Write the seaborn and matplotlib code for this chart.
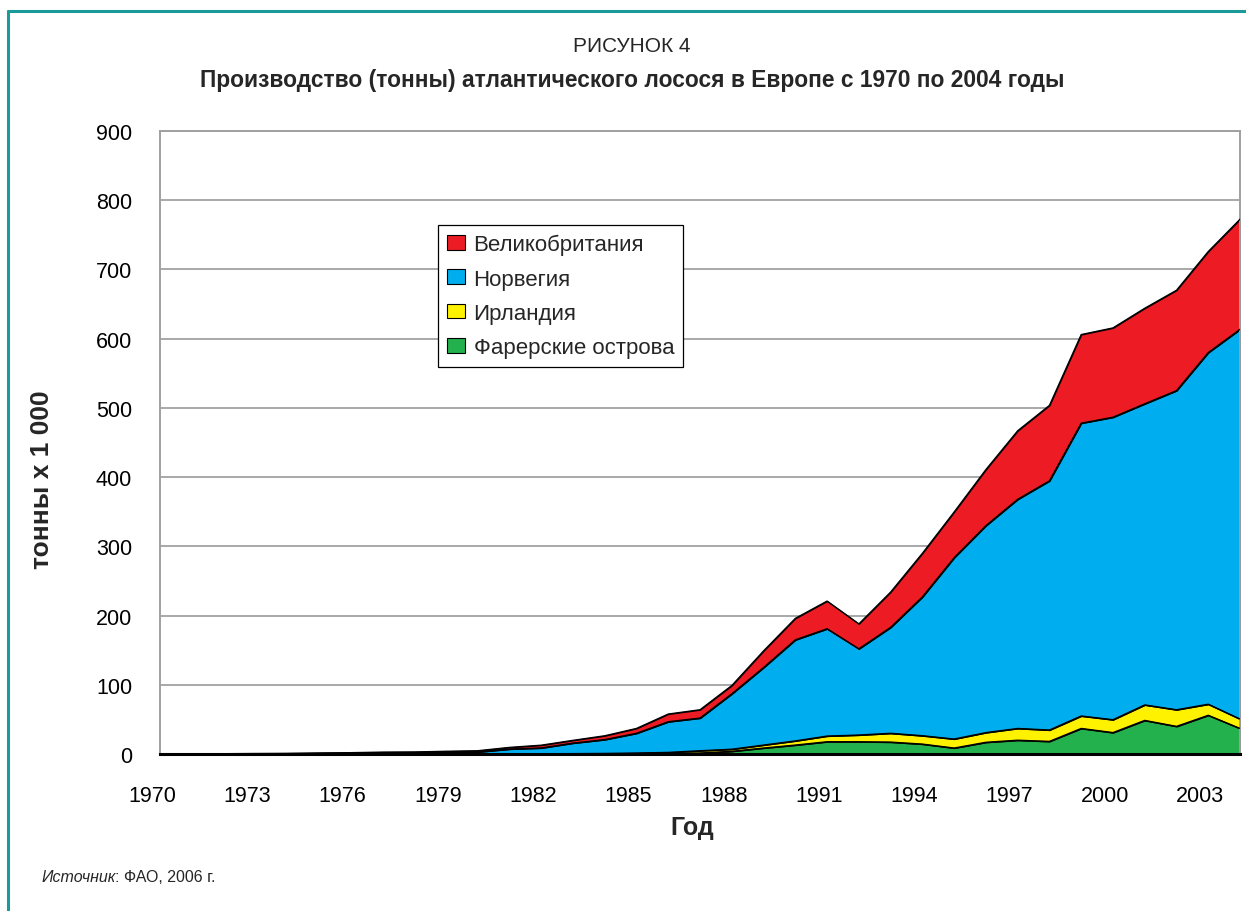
import numpy as np
import pandas as pd
import matplotlib
matplotlib.use("Agg")
import matplotlib.pyplot as plt
import matplotlib.transforms as mtransforms
from matplotlib.patches import Patch
import seaborn as sns

# Production of Atlantic salmon, thousand tonnes
years = list(range(1970, 2005))
faroe = [0, 0, 0, 0, 0, 0, 0, 0, 0, 0, 0, 0, 0, 0, 0.1, 0.5, 1.0, 1.5, 4.0, 8.7,
         13.0, 17.8, 17.8, 17.3, 14.4, 8.7, 17.0, 20.0, 18.3, 37.0, 31.0, 48.6, 40.0, 56.0, 37.0]
ireland = [0, 0, 0, 0, 0, 0, 0, 0, 0, 0, 0.2, 0.3, 0.4, 0.6, 0.8, 1.0, 1.4, 3.3, 3.0, 4.3,
           6.0, 8.2, 9.7, 12.7, 12.1, 13.0, 14.0, 17.0, 16.4, 18.0, 18.6, 22.4, 24.0, 16.0, 13.6]
norway = [0.1, 0.1, 0.2, 0.4, 0.6, 1.0, 1.4, 2.0, 2.2, 2.5, 2.8, 6.9, 8.4, 15.2, 20.0, 28.5,
          44.3, 47.2, 80.0, 112.0, 146.0, 155.0, 124.5, 153.0, 200.5, 262.0, 299.0, 331.0,
          360.0, 423.0, 437.0, 435.0, 461.0, 508.0, 563.0]
uk = [0.1, 0.2, 0.3, 0.4, 0.4, 0.5, 0.6, 0.8, 0.8, 1.5, 1.8, 2.4, 4.0, 4.0, 5.5, 7.0, 11.1,
      12.0, 12.0, 24.0, 31.0, 40.0, 36.0, 51.0, 63.0, 66.0, 81.0, 99.0, 109.0, 128.0, 129.0,
      138.0, 145.0, 146.0, 159.0]

series_names = ["Фарерские острова", "Ирландия", "Норвегия", "Великобритания"]
series_colors = ["#22B14C", "#FFF200", "#00AEEF", "#ED1C24"]
tick_years = list(range(1970, 2004, 3))
y_ticks = list(range(0, 901, 100))

sns.set_theme(style="white")
plt.rcParams["font.family"] = ["Liberation Sans", "DejaVu Sans"]

fig = plt.figure(figsize=(12.46, 9.12), dpi=100)
ax = fig.add_axes([160 / 1246, 1 - 755 / 912, 1080 / 1246, 623 / 912])

values = [faroe, ireland, norway, uk]
ax.stackplot(years, *values, colors=series_colors, edgecolor="black", linewidth=0.9)

# outline of each stacked layer
tops = np.cumsum(np.array(values), axis=0)
df = pd.DataFrame({
    "Год": np.tile(years, len(series_names)),
    "top": tops.ravel(),
    "layer": np.repeat(series_names, len(years)),
})
sns.lineplot(data=df, x="Год", y="top", units="layer", estimator=None,
             color="black", linewidth=0.9, ax=ax, zorder=3)

ax.set_xlim(1970, 2004)
ax.set_ylim(0, 900)
ax.set_yticks(y_ticks)
ax.set_xticks(tick_years)
ax.set_xticklabels([str(y) for y in tick_years])
ax.yaxis.grid(True, color="#A8A8A8", linewidth=1.4)
ax.set_axisbelow(True)
ax.tick_params(axis="both", length=0, labelsize=15.5, colors="black")
ax.tick_params(axis="x", pad=22)
ax.tick_params(axis="y", pad=20)
shift = mtransforms.ScaledTranslation(-8 / 100, 0, fig.dpi_scale_trans)
for lab in ax.get_xticklabels():
    lab.set_transform(lab.get_transform() + shift)
for side in ["left", "top", "right"]:
    ax.spines[side].set_color("#A0A0A0")
    ax.spines[side].set_linewidth(1.4)
ax.spines["bottom"].set_color("black")
ax.spines["bottom"].set_linewidth(2.2)
ax.set_xlabel("")
ax.set_ylabel("")

fig.text(42 / 1246, 1 - 480 / 912, "тонны x 1 000", rotation=90, ha="center", va="center",
         fontsize=19, fontweight="bold")
fig.text(692 / 1246, 1 - 828 / 912, "Год", ha="center", va="center",
         fontsize=18, fontweight="bold")

fig.text(632 / 1246, 1 - 47 / 912, "РИСУНОК 4", ha="center", va="center", fontsize=15)
fig.text(632 / 1246, 1 - 80 / 912,
         "Производство (тонны) атлантического лосося в Европе с 1970 по 2004 годы",
         ha="center", va="center", fontsize=16.4, fontweight="bold")

src = fig.text(41 / 1246, 1 - 878 / 912, "Источник", ha="left", va="center",
               fontsize=11.5, style="italic")
fig.canvas.draw()
bb = src.get_window_extent()
fig.text(bb.x1 / fig.bbox.width, 1 - 878 / 912, ": ФАО, 2006 г.", ha="left", va="center",
         fontsize=11.5)

handles = [Patch(facecolor=c, edgecolor="black", linewidth=0.8)
           for c in series_colors[::-1]]
leg = ax.legend(handles, series_names[::-1], loc="upper left",
                bbox_to_anchor=(438 / 1246, 1 - 226 / 912), bbox_transform=fig.transFigure,
                fontsize=16, frameon=True, fancybox=False, framealpha=1,
                edgecolor="black", handlelength=0.8, handleheight=0.65,
                handletextpad=0.4, labelspacing=0.6, borderpad=0.4, borderaxespad=0)
leg.get_frame().set_linewidth(0.9)

# outer frame of the figure
fig.add_artist(plt.Line2D([8 / 1246, 8 / 1246], [0, 1 - 12 / 912], transform=fig.transFigure,
                          color="#1A9A98", linewidth=2.2))
fig.add_artist(plt.Line2D([8 / 1246, 1], [1 - 12 / 912, 1 - 12 / 912], transform=fig.transFigure,
                          color="#1A9A98", linewidth=2.2))

fig.savefig("out.png", dpi=100, facecolor="white")
